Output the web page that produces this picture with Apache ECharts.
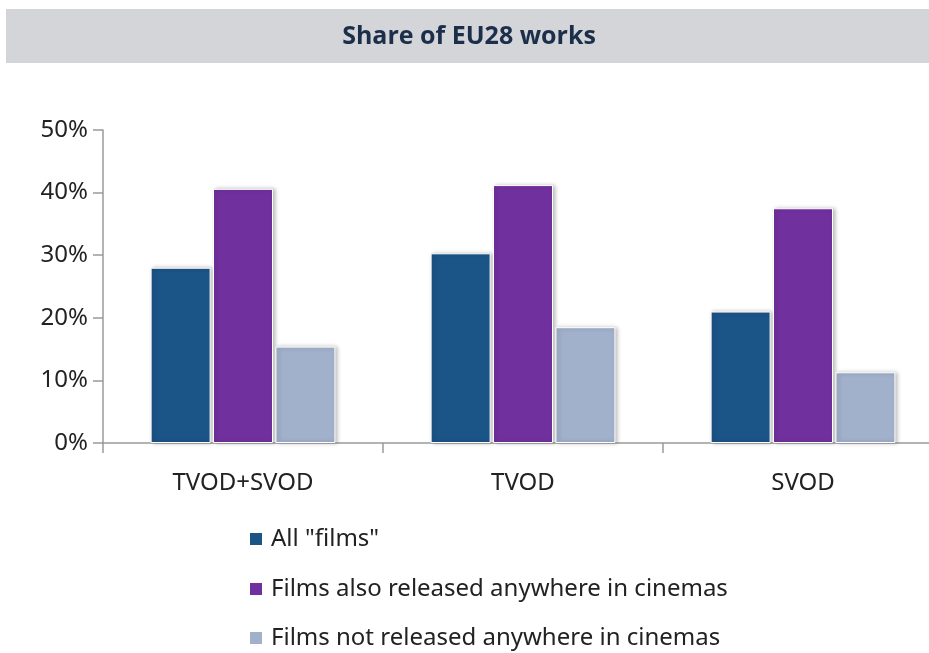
<!DOCTYPE html>
<html>
<head>
<meta charset="utf-8">
<script src="https://cdn.jsdelivr.net/npm/echarts@6/dist/echarts.min.js"></script>
<style>html,body{margin:0;padding:0;background:#fff}#c{width:929px;height:653px}</style>
</head>
<body>
<div id="c"></div>
<script>
const categories = ['TVOD+SVOD', 'TVOD', 'SVOD'];
const seriesNames = ['All "films"', 'Films also released anywhere in cinemas', 'Films not released anywhere in cinemas'];
const allFilms = [28.0, 30.3, 21.0];
const releasedCinemas = [40.6, 41.2, 37.5];
const notReleasedCinemas = [15.4, 18.5, 11.3];
const yTicks = [0, 10, 20, 30, 40, 50];
const colors = ['#1b5487', '#70309e', '#a1b0cb'];
const titleText = 'Share of EU28 works';

const font = '"Noto Sans", "DejaVu Sans", sans-serif';
const chart = echarts.init(document.getElementById('c'), null, {renderer: 'canvas'});
const values = [allFilms, releasedCinemas, notReleasedCinemas];
const legendTops = [527, 577, 626];
chart.setOption({
  animation: false,
  graphic: [
    {type: 'rect', shape: {x: 6, y: 9, width: 923, height: 54}, style: {fill: '#d4d5d9'}, z: 0},
    {type: 'text', x: 469, y: 37, style: {text: titleText, fill: '#1b2f4b', font: 'bold 25px "Open Sans", "Noto Sans", sans-serif', textAlign: 'center', textVerticalAlign: 'middle'}, z: 1}
  ],
  grid: {left: 103, width: 840, top: 130, height: 313, outerBoundsMode: 'none', containLabel: false},
  legend: seriesNames.map((n, i) => ({
    orient: 'vertical', left: 248, top: legendTops[i], padding: 0, itemWidth: 14, itemHeight: 14,
    icon: 'rect', selectedMode: false,
    textStyle: {fontFamily: font, fontSize: 24, color: '#222', padding: [0, 0, 0, 3]},
    data: [n]
  })),
  xAxis: {
    type: 'category', data: categories,
    axisLine: {lineStyle: {color: '#9a9a9a', width: 1.5}},
    axisTick: {show: true, length: 10, lineStyle: {color: '#9a9a9a', width: 1.5}},
    axisLabel: {fontFamily: font, fontSize: 24, color: '#222', margin: 28}
  },
  yAxis: {
    type: 'value', min: 0, max: 50, interval: 10,
    axisLine: {show: true, lineStyle: {color: '#9a9a9a', width: 1.5}},
    axisTick: {show: true, length: 10, lineStyle: {color: '#9a9a9a', width: 1.5}},
    splitLine: {show: false},
    axisLabel: {fontFamily: font, fontSize: 24, color: '#222', margin: 15, formatter: v => yTicks.includes(v) ? v + '%' : ''}
  },
  series: seriesNames.map((n, i) => ({
    name: n, type: 'bar', data: values[i],
    barGap: '4%', barCategoryGap: '34%',
    itemStyle: {color: colors[i], borderColor: '#fff', borderWidth: 1, shadowColor: 'rgba(0,0,0,0.25)', shadowBlur: 4, shadowOffsetX: 2}
  }))
});
</script>
</body>
</html>
